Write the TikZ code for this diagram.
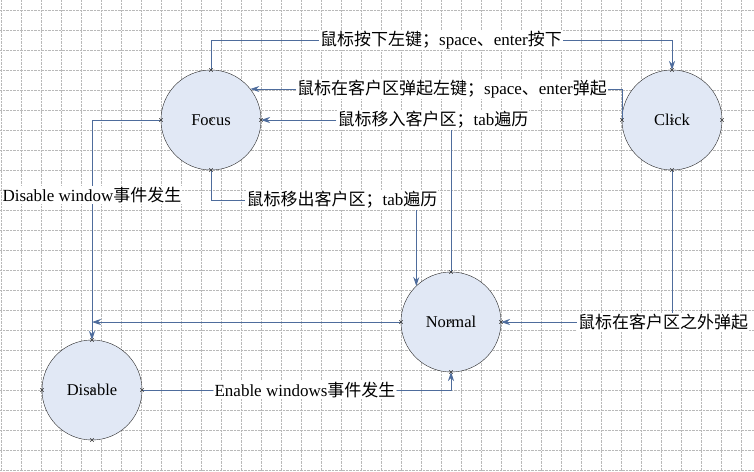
\documentclass[tikz,border=0pt]{standalone}
\usepackage{fontspec}
\setmainfont{Liberation Serif}
\newfontfamily\zhfont{Noto Sans CJK SC}
\newcommand{\zh}[1]{{\zhfont #1}}
\usepackage{tikz}
\usetikzlibrary{shapes,positioning,arrows.meta}
\definecolor{linec}{RGB}{78,108,156}
\definecolor{statefill}{RGB}{225,232,245}
\tikzset{state/.style={circle,draw=black!85,fill=statefill,minimum size=100pt,inner sep=0pt,outer sep=0pt,font=\fontsize{16.5}{18}\selectfont}}
\tikzset{ev/.style={fill=white,inner sep=1pt,font=\fontsize{17}{19}\selectfont}}
\tikzset{xmark/.style={cross out,draw=black!80,minimum size=3pt,inner sep=0pt,line width=0.4pt}}

\begin{document}
\begin{tikzpicture}[x=1pt,y=-1pt,>={Stealth[length=9pt,width=6pt]}]
    \useasboundingbox (0,0) rectangle (754,471);
    % grid
    \foreach \x in {1,21,...,741} \draw[gray!55,densely dotted] (\x,0) -- (\x,471);
    \foreach \y in {10,30,...,470} \draw[gray!55,densely dotted] (0,\y) -- (754,\y);

		\node[state] (focus) at (211,120) {Focus};
        \node[state] (click) at (672,120) {Click};
        \node[state] (normal) at (451,322) {Normal};
        \node[state] (disable) at (92,390) {Disable};

        \node[ev] (e1) at (441,40) {\zh{鼠标按下左键；}space\zh{、}enter\zh{按下}};
        \node[ev] (e2) at (452,89) {\zh{鼠标在客户区弹起左键；}space\zh{、}enter\zh{弹起}};
        \node[ev] (e3) at (433,120) {\zh{鼠标移入客户区；}tab\zh{遍历}};
        \node[ev] (e4) at (342,200) {\zh{鼠标移出客户区；}tab\zh{遍历}};
        \node[ev] (e5) at (92,195) {Disable window\zh{事件发生}};
        \node[ev] (e6) at (663,322) {\zh{鼠标在客户区之外弹起}};
        \node[ev] (e7) at (305,390) {Enable windows\zh{事件发生}};

        \draw[linec,line width=0.8pt] (focus.north) |- (e1.west);
		\draw[linec,line width=0.8pt,->] (e1.east) -| (click.north);
		\draw[linec,line width=0.8pt] (click.west) |- (e2.east);
		\draw[linec,line width=0.8pt,->] (e2.west) -- (e2.west -| focus.38);
		\draw[linec,line width=0.8pt] (normal.north) -- (normal.north |- e3.south);
		\draw[linec,line width=0.8pt,->] (e3.west) -- (focus.east);
		\draw[linec,line width=0.8pt] (focus.south) |- (e4.west);
		\draw[linec,line width=0.8pt,->] (e4.south -| normal.134) -- (normal.134);
		\draw[linec,line width=0.8pt] (focus.west) -| (e5.north);
		\draw[linec,line width=0.8pt,->] (e5.south) -- (disable.north);
		\draw[linec,line width=0.8pt,->] (normal.west) -- (normal.west -| disable.north);
		\draw[linec,line width=0.8pt] (click.south) -- (click.south |- e6.north);
		\draw[linec,line width=0.8pt,->] (e6.west) -- (normal.east);
		\draw[linec,line width=0.8pt] (disable.east) -- (e7.west);
		\draw[linec,line width=0.8pt,->] (e7.east) -| (normal.south);

        % connection points
        \foreach \n in {focus,click,normal,disable}
            \foreach \a in {north,south,east,west,center}
                \node[xmark] at (\n.\a) {};
    \end{tikzpicture}
\end{document}
